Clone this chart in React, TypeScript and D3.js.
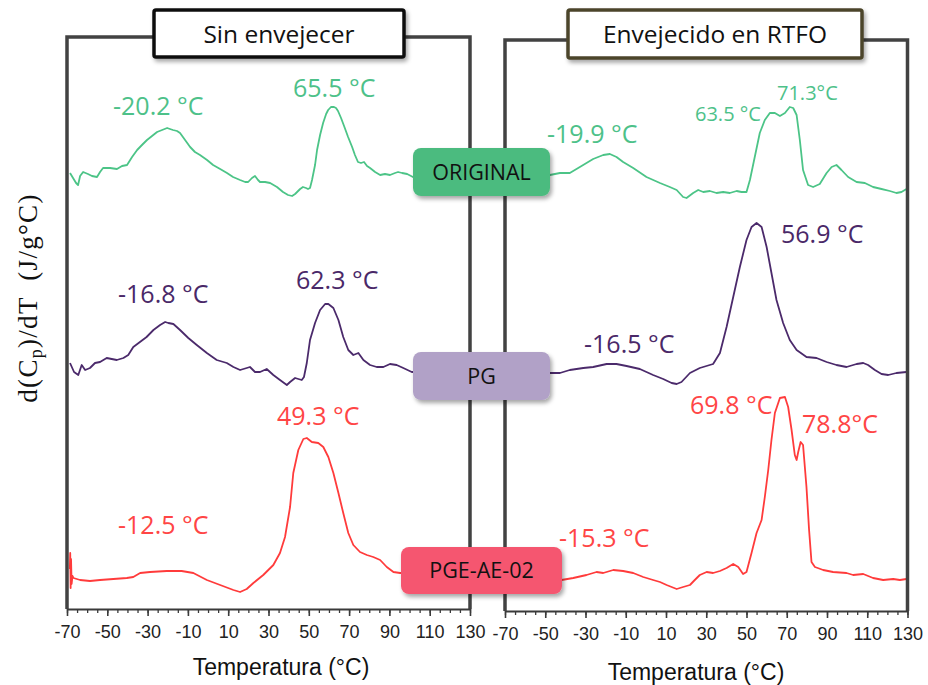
import React, { useEffect, useRef } from "react";
import * as d3 from "d3";

type Pt = [number, number];

// Temperature axis
const X_DOMAIN: [number, number] = [-70, 130];
const X_TICK_LABELS = [-70, -50, -30, -10, 10, 30, 50, 70, 90, 110, 130];
const Y_DOMAIN: [number, number] = [0, 575]; // d(Cp)/dT, arbitrary stacked units

const PANEL_TITLES = ["Sin envejecer", "Envejecido en RTFO"];
const SAMPLE_NAMES = ["ORIGINAL", "PG", "PGE-AE-02"];

// ---- Sin envejecer ----
const SIN_ORIGINAL: Pt[] = [
  [-68.5, 436], [-67.0, 431], [-65.5, 426], [-64.5, 424], [-63.5, 433], [-62.0, 437], [-59.6, 435], [-57.6, 433],
  [-55.1, 432], [-53.6, 437], [-52.1, 441], [-48.6, 441], [-45.2, 440], [-42.7, 443], [-40.2, 444], [-37.7, 452],
  [-35.2, 459], [-32.8, 464], [-30.3, 469], [-27.8, 473], [-25.3, 477], [-22.8, 479], [-20.3, 481], [-18.9, 480],
  [-17.4, 479], [-15.4, 478], [-13.9, 476], [-11.4, 469], [-8.9, 462], [-6.5, 457], [-4.0, 454], [-0.5, 449],
  [2.5, 444], [6.0, 440], [9.4, 436], [12.4, 432], [15.9, 429], [18.4, 427], [19.9, 427], [21.8, 431],
  [23.3, 433], [24.8, 429], [25.8, 427], [28.3, 427], [30.8, 426], [34.2, 422], [37.2, 417], [39.7, 414],
  [41.7, 413], [43.2, 415], [44.2, 417], [45.7, 420], [47.1, 422], [48.6, 421], [49.6, 420], [50.6, 421],
  [51.6, 429], [53.1, 444], [54.1, 459], [55.6, 474], [57.1, 486], [58.6, 495], [59.6, 499], [61.0, 502],
  [62.5, 502], [63.5, 501], [64.5, 498], [66.0, 491], [67.5, 483], [69.5, 472], [71.5, 462], [72.9, 454],
  [74.4, 447], [75.9, 446], [77.4, 447], [78.9, 443], [80.4, 441], [82.9, 437], [85.4, 434], [87.8, 435],
  [90.3, 434], [92.8, 436], [94.3, 437], [96.3, 436], [98.8, 435], [101.7, 432], [105.2, 431], [115.1, 431],
  [125.0, 429], [130, 428],
];

const SIN_PG: Pt[] = [
  [-68.5, 246], [-66.5, 237], [-64.4, 234], [-62.7, 244], [-61.0, 239], [-58.6, 241], [-56.1, 246], [-53.6, 247],
  [-50.3, 251], [-45.3, 249], [-42.0, 251], [-39.6, 254], [-37.1, 262], [-33.8, 267], [-30.5, 272], [-27.1, 279],
  [-23.8, 284], [-21.3, 287], [-19.7, 286], [-17.2, 285], [-13.9, 279], [-9.8, 271], [-5.6, 264], [-0.6, 256],
  [4.3, 249], [9.3, 246], [12.6, 242], [15.9, 239], [19.2, 241], [20.8, 242], [23.3, 237], [25.8, 237],
  [29.1, 240], [32.4, 234], [35.7, 229], [39.1, 224], [40.7, 227], [43.2, 231], [46.5, 229], [47.6, 232],
  [49.0, 246], [50.6, 269], [53.1, 286], [55.6, 299], [58.1, 305], [59.7, 305], [62.2, 301], [64.7, 289],
  [67.1, 272], [69.6, 259], [72.1, 254], [74.6, 256], [77.1, 249], [80.4, 244], [83.7, 242], [87.0, 242],
  [90.3, 245], [93.6, 244], [96.9, 241], [101.1, 237], [105, 237], [115, 236], [130, 236],
];

const SIN_PGE: Pt[] = [
  [-68.6, 40], [-68.4, 56], [-68.2, 21], [-68.0, 50], [-67.7, 25], [-67.3, 33], [-66.8, 31], [-63.5, 29],
  [-58.6, 28], [-53.6, 29], [-47.0, 30], [-40.3, 31], [-37.1, 32], [-33.7, 36], [-28.8, 37], [-20.5, 38],
  [-13.1, 38], [-7.3, 36], [-0.6, 29], [6.0, 24], [12.6, 19], [15.9, 17], [19.2, 20], [22.5, 26],
  [27.4, 34], [32.4, 44], [35.7, 56], [38.2, 72], [40.7, 102], [42.3, 136], [44.8, 159], [47.3, 170],
  [49.0, 171], [51.5, 167], [54.7, 166], [57.2, 162], [59.7, 152], [62.2, 136], [64.7, 116], [67.1, 96],
  [69.6, 76], [72.1, 64], [75.4, 57], [78.8, 54], [82.0, 52], [85.4, 49], [88.7, 42], [92.0, 37],
  [95.3, 36], [105, 36], [115, 36], [130, 36],
];

// ---- Envejecido en RTFO ----
const RTFO_ORIGINAL: Pt[] = [
  [-70, 436], [-60, 437], [-47.7, 436], [-42.7, 438], [-37.8, 438], [-32.8, 444], [-26.2, 452], [-21.2, 456],
  [-17.9, 457], [-14.6, 454], [-11.3, 449], [-6.3, 443], [0.3, 434], [7.0, 428], [11.9, 424], [15.3, 421],
  [18.5, 414], [20.2, 413], [23.5, 418], [26.0, 421], [28.5, 419], [31.8, 420], [35.1, 418], [38.4, 419],
  [41.7, 418], [45.1, 420], [47.5, 419], [50.0, 419], [51.7, 431], [54.1, 454], [56.6, 478], [59.1, 491],
  [61.6, 498], [64.1, 498], [66.6, 495], [69.1, 498], [71.5, 504], [73.2, 503], [74.9, 496], [76.5, 471],
  [78.1, 441], [80.6, 426], [83.1, 424], [86.4, 427], [89.8, 438], [92.3, 444], [94.7, 446], [97.2, 441],
  [100.5, 434], [104.7, 429], [108.8, 428], [112.9, 424], [117.1, 422], [121.2, 420], [124.5, 418], [127.0, 419],
  [129.5, 422],
];

const RTFO_PG: Pt[] = [
  [-70, 238], [-60, 238], [-47.7, 238], [-42.7, 238], [-37.8, 241], [-31.1, 243], [-26.2, 244], [-19.5, 247],
  [-14.6, 247], [-9.6, 245], [-3.0, 242], [3.6, 236], [8.6, 232], [12.8, 228], [15.3, 227], [17.7, 229],
  [21.9, 238], [26.8, 243], [33.4, 247], [36.8, 258], [40.1, 284], [43.4, 314], [46.7, 344], [50.0, 371],
  [52.5, 384], [55.0, 388], [57.5, 384], [60.0, 364], [62.4, 338], [64.9, 311], [68.2, 288], [71.5, 271],
  [74.9, 261], [79.8, 254], [84.8, 253], [89.8, 249], [94.7, 246], [99.7, 244], [104.7, 247], [108.0, 248],
  [110.4, 246], [113.8, 241], [117.1, 237], [120.4, 236], [124.5, 238], [129.5, 239],
];

const RTFO_PGE: Pt[] = [
  [-70, 30], [-60, 30], [-50, 31], [-41.9, 31], [-36.1, 33], [-29.5, 36], [-24.5, 39], [-21.2, 38],
  [-16.2, 41], [-11.3, 40], [-6.3, 38], [-1.3, 34], [3.6, 31], [7.0, 29], [10.3, 26], [15.3, 22],
  [18.5, 24], [21.9, 26], [24.3, 31], [26.8, 36], [30.2, 39], [33.4, 38], [36.8, 40], [40.1, 43],
  [43.4, 47], [45.9, 44], [48.3, 37], [50.0, 39], [52.5, 58], [55.0, 78], [57.5, 91], [59.1, 114],
  [60.8, 141], [62.4, 171], [64.1, 198], [66.6, 213], [69.1, 214], [70.7, 204], [72.4, 181], [74.0, 156],
  [74.9, 151], [75.7, 159], [76.9, 169], [78.1, 166], [79.8, 124], [81.1, 81], [82.3, 49], [84.0, 44],
  [88.1, 41], [93.0, 39], [99.7, 38], [103.0, 36], [108.0, 37], [112.9, 33], [117.9, 31], [122.9, 32],
  [126.2, 31], [129.5, 32],
];

// Peak annotations
const SIN_LABELS = ["-20.2 °C", "65.5 °C", "-16.8 °C", "62.3 °C", "49.3 °C", "-12.5 °C"];
const RTFO_LABELS = ["-19.9 °C", "63.5 °C", "71.3°C", "56.9 °C", "-16.5 °C", "69.8 °C", "78.8°C", "-15.3 °C"];

const COLORS = { green: "#4cc487", purple: "#4b2a6b", red: "#ff3b3b" };
const TEXT_COLORS = { green: "#4dc189", purple: "#4a2868", red: "#ff4545" };
const BOX_COLORS = ["#4cbb7f", "#b1a1c7", "#f5566f"];

const W = 928;
const H = 685;
const SANS = "'Open Sans', 'Noto Sans', sans-serif";

export default function App() {
  const ref = useRef<SVGSVGElement>(null);

  useEffect(() => {
    const svg = d3.select(ref.current!);
    svg.selectAll("*").remove();

    const defs = svg.append("defs");
    defs
      .append("filter")
      .attr("id", "shadow")
      .attr("x", "-10%")
      .attr("y", "-10%")
      .attr("width", "130%")
      .attr("height", "140%")
      .append("feDropShadow")
      .attr("dx", 2)
      .attr("dy", 3)
      .attr("stdDeviation", 2)
      .attr("flood-color", "#000")
      .attr("flood-opacity", 0.35);

    const panels = [
      {
        title: PANEL_TITLES[0],
        xr: [67, 470],
        top: 37,
        bottom: 609,
        titleBox: { x: 154, y: 10, w: 250, h: 47, stroke: "#111" },
        axisTitleX: 281,
        axisTitleY: 675,
        series: [
          { data: SIN_ORIGINAL, color: COLORS.green },
          { data: SIN_PG, color: COLORS.purple },
          { data: SIN_PGE, color: COLORS.red },
        ],
        labels: [
          { t: SIN_LABELS[0], x: 113, y: 115, c: TEXT_COLORS.green, s: 25 },
          { t: SIN_LABELS[1], x: 293, y: 97, c: TEXT_COLORS.green, s: 25 },
          { t: SIN_LABELS[2], x: 118, y: 303, c: TEXT_COLORS.purple, s: 25 },
          { t: SIN_LABELS[3], x: 296, y: 289, c: TEXT_COLORS.purple, s: 25 },
          { t: SIN_LABELS[4], x: 277, y: 425, c: TEXT_COLORS.red, s: 25 },
          { t: SIN_LABELS[5], x: 118, y: 534, c: TEXT_COLORS.red, s: 25 },
        ],
      },
      {
        title: PANEL_TITLES[1],
        xr: [505, 907.5],
        top: 40,
        bottom: 611,
        titleBox: { x: 568, y: 10, w: 294, h: 48, stroke: "#4c442c" },
        axisTitleX: 696,
        axisTitleY: 680,
        series: [
          { data: RTFO_ORIGINAL, color: COLORS.green },
          { data: RTFO_PG, color: COLORS.purple },
          { data: RTFO_PGE, color: COLORS.red },
        ],
        labels: [
          { t: RTFO_LABELS[0], x: 547, y: 143, c: TEXT_COLORS.green, s: 25 },
          { t: RTFO_LABELS[1], x: 695, y: 121, c: TEXT_COLORS.green, s: 20 },
          { t: RTFO_LABELS[2], x: 777, y: 100, c: TEXT_COLORS.green, s: 20 },
          { t: RTFO_LABELS[3], x: 781, y: 243, c: TEXT_COLORS.purple, s: 25 },
          { t: RTFO_LABELS[4], x: 584, y: 353, c: TEXT_COLORS.purple, s: 25 },
          { t: RTFO_LABELS[5], x: 690, y: 414, c: TEXT_COLORS.red, s: 25 },
          { t: RTFO_LABELS[6], x: 802, y: 433, c: TEXT_COLORS.red, s: 25 },
          { t: RTFO_LABELS[7], x: 559, y: 547, c: TEXT_COLORS.red, s: 25 },
        ],
      },
    ];

    panels.forEach((p) => {
      const x = d3.scaleLinear().domain(X_DOMAIN).range(p.xr as [number, number]);
      const y = d3.scaleLinear().domain(Y_DOMAIN).range([p.bottom, p.bottom - 575]);
      const g = svg.append("g");

      const line = d3
        .line<Pt>()
        .x((d) => x(d[0]))
        .y((d) => y(d[1]))
        .curve(d3.curveLinear);

      p.series.forEach((s) => {
        g.append("path")
          .attr("d", line(s.data))
          .attr("fill", "none")
          .attr("stroke", s.color)
          .attr("stroke-width", 1.8)
          .attr("stroke-linejoin", "round");
      });

      // frame
      g.append("path")
        .attr(
          "d",
          `M${p.xr[0]},${p.bottom}L${p.xr[0]},${p.top}L${p.xr[1]},${p.top}L${p.xr[1]},${p.bottom}`
        )
        .attr("fill", "none")
        .attr("stroke", "#424242")
        .attr("stroke-width", 3.5);

      // axes
      const minor = d3
        .axisBottom(x)
        .tickValues(d3.range(-70, 131, 5))
        .tickSize(4)
        .tickSizeOuter(0)
        .tickFormat(() => "");
      const ga = g.append("g").attr("transform", `translate(0,${p.bottom})`).call(minor);
      ga.select(".domain").attr("stroke", "#3a3a3a").attr("stroke-width", 2);
      ga.selectAll(".tick line").attr("stroke", "#3a3a3a").attr("stroke-width", 1.3);

      const major = d3
        .axisBottom(x)
        .tickValues(X_TICK_LABELS)
        .tickSize(7)
        .tickSizeOuter(0)
        .tickPadding(9)
        .tickFormat((d) => String(d));
      const gm = g.append("g").attr("transform", `translate(0,${p.bottom})`).call(major);
      gm.select(".domain").remove();
      gm.selectAll(".tick line").attr("stroke", "#3a3a3a").attr("stroke-width", 1.6);
      gm.selectAll(".tick text")
        .attr("font-family", "'Liberation Sans', Arial, sans-serif")
        .attr("font-size", 18)
        .attr("fill", "#222");

      g.append("text")
        .attr("x", p.axisTitleX)
        .attr("y", p.axisTitleY)
        .attr("text-anchor", "middle")
        .attr("font-family", "'Liberation Sans', Arial, sans-serif")
        .attr("font-size", 23)
        .attr("fill", "#111")
        .text("Temperatura (°C)");

      // annotations
      p.labels.forEach((l) => {
        g.append("text")
          .attr("x", l.x)
          .attr("y", l.y)
          .attr("font-family", SANS)
          .attr("font-size", l.s)
          .attr("fill", l.c)
          .text(l.t);
      });

      // title box
      const tb = p.titleBox;
      g.append("rect")
        .attr("x", tb.x)
        .attr("y", tb.y)
        .attr("width", tb.w)
        .attr("height", tb.h)
        .attr("rx", 2)
        .attr("fill", "#fff")
        .attr("stroke", tb.stroke)
        .attr("stroke-width", 3.5)
        .attr("filter", "url(#shadow)");
      g.append("text")
        .attr("x", tb.x + tb.w / 2)
        .attr("y", tb.y + 33)
        .attr("text-anchor", "middle")
        .attr("font-family", SANS)
        .attr("font-size", 24.5)
        .attr("fill", "#111")
        .text(p.title);
    });

    // sample name boxes (on top of both panels)
    const boxes = [
      { x: 413, y: 148, w: 137, h: 48 },
      { x: 413, y: 352, w: 137, h: 48 },
      { x: 401, y: 547, w: 161, h: 47 },
    ];
    SAMPLE_NAMES.forEach((name, i) => {
      const b = boxes[i];
      svg
        .append("rect")
        .attr("x", b.x)
        .attr("y", b.y)
        .attr("width", b.w)
        .attr("height", b.h)
        .attr("rx", 8)
        .attr("fill", BOX_COLORS[i])
        .attr("filter", "url(#shadow)");
      svg
        .append("text")
        .attr("x", b.x + b.w / 2)
        .attr("y", b.y + b.h / 2 + 7.5)
        .attr("text-anchor", "middle")
        .attr("font-family", SANS)
        .attr("font-size", 21.5)
        .attr("fill", "#111")
        .text(name);
    });

    // y axis title
    const yt = svg
      .append("text")
      .attr("transform", "translate(37,298) rotate(-90)")
      .attr("text-anchor", "middle")
      .attr("font-family", "'Liberation Serif', 'Times New Roman', serif")
      .attr("font-size", 27)
      .attr("letter-spacing", 1.3)
      .attr("fill", "#111")
      .style("white-space", "pre");
    yt.append("tspan").text("d(C");
    yt.append("tspan").attr("font-size", 18).attr("dy", 5).text("p");
    yt.append("tspan").attr("dy", -5).text(")/dT  (J/g°C)");
  }, []);

  return (
    <svg
      ref={ref}
      width={W}
      height={H}
      style={{ position: "absolute", left: 0, top: 0, background: "#fff" }}
    />
  );
}
